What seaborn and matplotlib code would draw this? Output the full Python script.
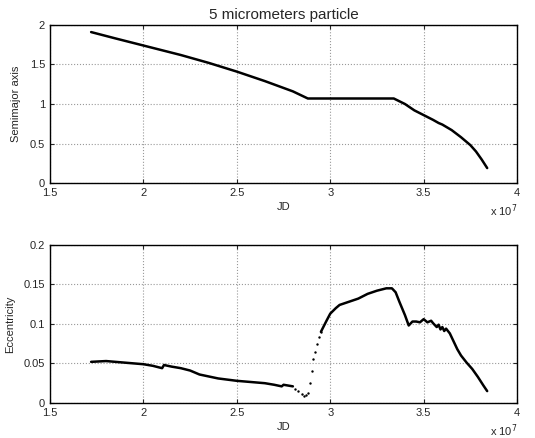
import numpy as np
import pandas as pd
import matplotlib
matplotlib.use("Agg")
import matplotlib.pyplot as plt
import seaborn as sns

# Semieixo maior (x em unidades de 1e7 JD)
jd_a = [1.72, 1.85, 2.0, 2.1, 2.2, 2.35, 2.5, 2.65, 2.8, 2.88, 3.0, 3.2, 3.34,
        3.40, 3.45, 3.50, 3.55, 3.58, 3.60, 3.65, 3.70, 3.75, 3.78, 3.81, 3.84]
semi_a = [1.91, 1.83, 1.74, 1.68, 1.62, 1.52, 1.41, 1.29, 1.16, 1.07, 1.07, 1.07, 1.07,
          1.00, 0.92, 0.86, 0.80, 0.76, 0.74, 0.67, 0.58, 0.48, 0.40, 0.30, 0.19]

# Excentricidade, em tres trechos
jd_e1 = [1.72, 1.80, 1.90, 2.00, 2.05, 2.10, 2.11, 2.15, 2.20, 2.25, 2.30, 2.40,
         2.50, 2.60, 2.65, 2.70, 2.74, 2.75, 2.80]
ecc_e1 = [0.052, 0.053, 0.051, 0.049, 0.047, 0.044, 0.048, 0.046, 0.044, 0.041,
          0.036, 0.031, 0.028, 0.026, 0.025, 0.023, 0.021, 0.023, 0.021]
jd_e2 = [2.81, 2.83, 2.85, 2.86, 2.87, 2.88, 2.89, 2.90, 2.91, 2.92, 2.93, 2.94, 2.95]
ecc_e2 = [0.018, 0.015, 0.011, 0.009, 0.010, 0.012, 0.025, 0.040, 0.055, 0.065,
          0.075, 0.083, 0.090]
jd_e3 = [2.95, 2.98, 3.00, 3.03, 3.05, 3.10, 3.15, 3.20, 3.25, 3.30, 3.33, 3.35,
         3.37, 3.40, 3.42, 3.44, 3.46, 3.48, 3.50, 3.52, 3.54, 3.55, 3.57, 3.58,
         3.59, 3.60, 3.61, 3.62, 3.64, 3.66, 3.68, 3.70, 3.73, 3.76, 3.79, 3.82, 3.84]
ecc_e3 = [0.090, 0.104, 0.113, 0.120, 0.124, 0.128, 0.132, 0.138, 0.142, 0.145,
          0.145, 0.140, 0.128, 0.111, 0.098, 0.103, 0.103, 0.102, 0.106, 0.102,
          0.104, 0.101, 0.096, 0.099, 0.093, 0.096, 0.091, 0.094, 0.088, 0.078,
          0.068, 0.060, 0.051, 0.043, 0.033, 0.022, 0.015]

sns.set_style("ticks")
plt.rcParams['font.family'] = ['Liberation Sans', 'DejaVu Sans']

fig = plt.figure(figsize=(5.35, 4.38), dpi=100)
ax1 = fig.add_axes([0.0935, 0.582, 0.873, 0.361])
ax2 = fig.add_axes([0.0935, 0.080, 0.873, 0.361])

df_a = pd.DataFrame({'jd': jd_a, 'a': semi_a})
sns.lineplot(data=df_a, x='jd', y='a', ax=ax1, color='black', linewidth=1.8, sort=False)

sns.lineplot(x=jd_e1, y=ecc_e1, ax=ax2, color='black', linewidth=1.8, sort=False)
sns.scatterplot(x=jd_e2, y=ecc_e2, ax=ax2, color='black', s=3, linewidth=0)
sns.lineplot(x=jd_e3, y=ecc_e3, ax=ax2, color='black', linewidth=1.8, sort=False)

for ax, ylim, yt, ylab in [(ax1, (0, 2), [0, 0.5, 1, 1.5, 2], 'Semimajor axis'),
                           (ax2, (0, 0.2), [0, 0.05, 0.1, 0.15, 0.2], 'Eccentricity')]:
    ax.set_xlim(1.5, 4)
    ax.set_ylim(*ylim)
    ax.set_xticks([1.5, 2, 2.5, 3, 3.5, 4])
    ax.set_xticklabels(['1.5', '2', '2.5', '3', '3.5', '4'])
    ax.set_yticks(yt)
    ax.set_yticklabels([('%g' % v) for v in yt])
    ax.grid(True, linestyle=':', color='#999999', linewidth=0.8)
    ax.tick_params(direction='in', labelsize=8, length=3, top=True, right=True)
    for s in ax.spines.values():
        s.set_visible(True)
        s.set_linewidth(1)
        s.set_color('black')
    ax.set_xlabel('JD', fontsize=8, labelpad=3)
    ax.set_ylabel(ylab, fontsize=8, labelpad=6)
    ax.text(1.0, -0.175, r'x 10$^{7}$', transform=ax.transAxes, fontsize=8,
            ha='right', va='center')

ax1.set_title('5 micrometers particle', fontsize=11, pad=4)

fig.savefig('out.png', dpi=100)
